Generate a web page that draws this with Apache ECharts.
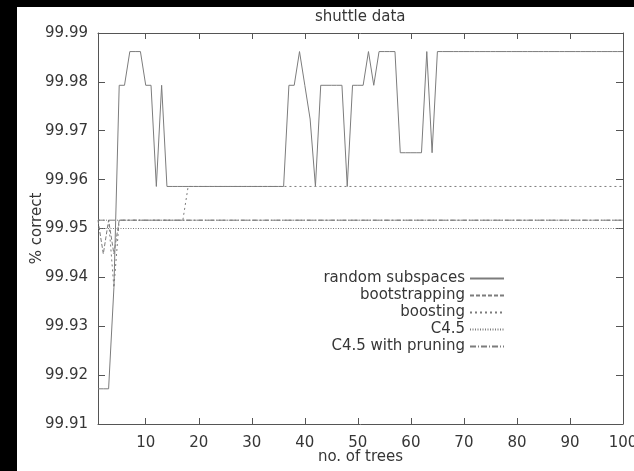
<!DOCTYPE html>
<html><head><meta charset="utf-8">
<script src="https://cdn.jsdelivr.net/npm/echarts@6/dist/echarts.min.js"></script>
<style>
html,body{margin:0;padding:0;background:#000;width:634px;height:471px;overflow:hidden}
#chart{position:absolute;left:17px;top:7px;width:617px;height:464px;background:#fff}
</style></head><body><div id="chart"></div>
<script>
// number of trees: 1..100
const trees = [
  1,2,3,4,5,6,7,8,9,10, 11,12,13,14,15,16,17,18,19,20,
  21,22,23,24,25,26,27,28,29,30, 31,32,33,34,35,36,37,38,39,40,
  41,42,43,44,45,46,47,48,49,50, 51,52,53,54,55,56,57,58,59,60,
  61,62,63,64,65,66,67,68,69,70, 71,72,73,74,75,76,77,78,79,80,
  81,82,83,84,85,86,87,88,89,90, 91,92,93,94,95,96,97,98,99,100
];
const randomSubspaces = [
  99.9172,99.9172,99.9172,99.9379,99.9793,99.9793,99.9862,99.9862,99.9862,99.9793,
  99.9793,99.9586,99.9793,99.9586,99.9586,99.9586,99.9586,99.9586,99.9586,99.9586,
  99.9586,99.9586,99.9586,99.9586,99.9586,99.9586,99.9586,99.9586,99.9586,99.9586,
  99.9586,99.9586,99.9586,99.9586,99.9586,99.9586,99.9793,99.9793,99.9862,99.9793,
  99.9724,99.9586,99.9793,99.9793,99.9793,99.9793,99.9793,99.9586,99.9793,99.9793,
  99.9793,99.9862,99.9793,99.9862,99.9862,99.9862,99.9862,99.9655,99.9655,99.9655,
  99.9655,99.9655,99.9862,99.9655,99.9862,99.9862,99.9862,99.9862,99.9862,99.9862,
  99.9862,99.9862,99.9862,99.9862,99.9862,99.9862,99.9862,99.9862,99.9862,99.9862,
  99.9862,99.9862,99.9862,99.9862,99.9862,99.9862,99.9862,99.9862,99.9862,99.9862,
  99.9862,99.9862,99.9862,99.9862,99.9862,99.9862,99.9862,99.9862,99.9862,99.9862
];
const bootstrapping = [
  99.9517,99.9448,99.9517,99.9448,99.9517,99.9517,99.9517,99.9517,99.9517,99.9517,
  99.9517,99.9517,99.9517,99.9517,99.9517,99.9517,99.9517,99.9517,99.9517,99.9517,
  99.9517,99.9517,99.9517,99.9517,99.9517,99.9517,99.9517,99.9517,99.9517,99.9517,
  99.9517,99.9517,99.9517,99.9517,99.9517,99.9517,99.9517,99.9517,99.9517,99.9517,
  99.9517,99.9517,99.9517,99.9517,99.9517,99.9517,99.9517,99.9517,99.9517,99.9517,
  99.9517,99.9517,99.9517,99.9517,99.9517,99.9517,99.9517,99.9517,99.9517,99.9517,
  99.9517,99.9517,99.9517,99.9517,99.9517,99.9517,99.9517,99.9517,99.9517,99.9517,
  99.9517,99.9517,99.9517,99.9517,99.9517,99.9517,99.9517,99.9517,99.9517,99.9517,
  99.9517,99.9517,99.9517,99.9517,99.9517,99.9517,99.9517,99.9517,99.9517,99.9517,
  99.9517,99.9517,99.9517,99.9517,99.9517,99.9517,99.9517,99.9517,99.9517,99.9517
];
const boosting = [
  99.9517,99.9517,99.9517,99.9379,99.9517,99.9517,99.9517,99.9517,99.9517,99.9517,
  99.9517,99.9517,99.9517,99.9517,99.9517,99.9517,99.9517,99.9586,99.9586,99.9586,
  99.9586,99.9586,99.9586,99.9586,99.9586,99.9586,99.9586,99.9586,99.9586,99.9586,
  99.9586,99.9586,99.9586,99.9586,99.9586,99.9586,99.9586,99.9586,99.9586,99.9586,
  99.9586,99.9586,99.9586,99.9586,99.9586,99.9586,99.9586,99.9586,99.9586,99.9586,
  99.9586,99.9586,99.9586,99.9586,99.9586,99.9586,99.9586,99.9586,99.9586,99.9586,
  99.9586,99.9586,99.9586,99.9586,99.9586,99.9586,99.9586,99.9586,99.9586,99.9586,
  99.9586,99.9586,99.9586,99.9586,99.9586,99.9586,99.9586,99.9586,99.9586,99.9586,
  99.9586,99.9586,99.9586,99.9586,99.9586,99.9586,99.9586,99.9586,99.9586,99.9586,
  99.9586,99.9586,99.9586,99.9586,99.9586,99.9586,99.9586,99.9586,99.9586,99.9586
];
// constant baselines (value at first and last tree count)
const c45Trees = [1, 100];
const c45 = [99.9500, 99.9500];
const c45Pruning = [99.9517, 99.9517];

const xTickValues = [10,20,30,40,50,60,70,80,90];
const xLabelValues = [10,20,30,40,50,60,70,80,90,100];
const yMin = 99.91, yMax = 99.99, yStep = 0.01;

const FONT = '"DejaVu Sans", Verdana, sans-serif';
const FS = 15;
const TXT = '#363636';
const LINE = '#7c7c7c';
const AXIS = '#555';

function pairs(xs, ys){ return ys.map((v,i)=>[xs[i], v]); }
function mk(name, xs, ys, dash, z){
  return {name, type:'line', data: pairs(xs, ys), symbol:'none', showSymbol:false,
    lineStyle:{color:LINE, width:1, type:dash}, itemStyle:{color:LINE},
    emphasis:{disabled:true}, z:z, animation:false, xAxisIndex:0, yAxisIndex:0};
}

const chart = echarts.init(document.getElementById('chart'));
const axisCommonX = {type:'value', min:1, max:100,
  axisLine:{show:true, lineStyle:{color:AXIS, width:1}},
  axisTick:{show:true, inside:true, length:6, customValues:xTickValues, lineStyle:{color:AXIS}},
  splitLine:{show:false}};
const axisCommonY = {type:'value', min:yMin, max:yMax, interval:yStep,
  axisLine:{show:true, lineStyle:{color:AXIS, width:1}},
  axisTick:{show:true, inside:true, length:7, lineStyle:{color:AXIS}},
  splitLine:{show:false}};

chart.setOption({
  animation:false,
  textStyle:{fontFamily:FONT},
  title:{text:'shuttle data', left:298, top:3, padding:0,
    textStyle:{fontFamily:FONT, fontSize:FS, fontWeight:'normal', color:TXT}},
  grid:{left:81, top:26, right:11, bottom:47, containLabel:false, outerBoundsMode:'none'},
  legend:{orient:'vertical', align:'right', right:129, top:263, padding:0,
    itemWidth:34, itemHeight:10, itemGap:0, selectedMode:false,
    itemStyle:{opacity:0},
    textStyle:{fontFamily:FONT, fontSize:FS, color:TXT, lineHeight:17},
    data:['random subspaces','bootstrapping','boosting','C4.5','C4.5 with pruning']},
  xAxis:[
    Object.assign({}, axisCommonX, {position:'bottom',
      axisLabel:{customValues:xLabelValues, color:TXT, fontSize:FS, margin:12, fontFamily:FONT, hideOverlap:false},
      name:'no. of trees', nameLocation:'middle', nameGap:26, nameMoveOverlap:false,
      nameTextStyle:{color:TXT, fontSize:FS, fontFamily:FONT}}),
    Object.assign({}, axisCommonX, {position:'top', axisLabel:{show:false}})
  ],
  yAxis:[
    Object.assign({}, axisCommonY, {position:'left',
      axisLabel:{color:TXT, fontSize:FS, margin:10, fontFamily:FONT, formatter:v=>v.toFixed(2)},
      name:'% correct', nameLocation:'middle', nameGap:53, nameRotate:90, nameMoveOverlap:false,
      nameTextStyle:{color:TXT, fontSize:FS, fontFamily:FONT}}),
    Object.assign({}, axisCommonY, {position:'right', axisLabel:{show:false}})
  ],
  series:[
    mk('random subspaces', trees, randomSubspaces, 'solid', 6),
    mk('bootstrapping', trees, bootstrapping, [4,2], 5),
    mk('boosting', trees, boosting, [2,3], 4),
    mk('C4.5', c45Trees, c45, [1,1.5], 3),
    mk('C4.5 with pruning', c45Trees, c45Pruning, [6,2,1,2], 2)
  ]
});
</script></body></html>
